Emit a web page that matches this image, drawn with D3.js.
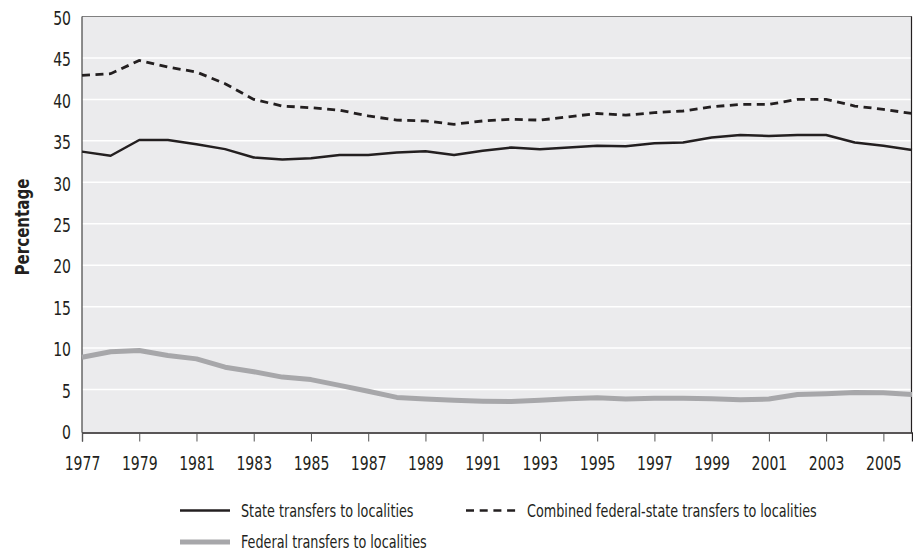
<!DOCTYPE html>
<html>
<head>
<meta charset="utf-8">
<script src="https://cdn.jsdelivr.net/npm/d3@7"></script>
<style>
  body { margin: 0; background: #fff; }
  svg text { font-family: "Liberation Sans Narrow", "DejaVu Sans Condensed", "Roboto Condensed", sans-serif; fill: #231f20; }
</style>
</head>
<body>
<div id="chart"></div>
<script>
const years = d3.range(1977, 2007);
const stateTransfers = [33.7, 33.2, 35.1, 35.1, 34.6, 34.0, 33.0, 32.75, 32.9, 33.3,
  33.3, 33.6, 33.75, 33.3, 33.8, 34.2, 34.0, 34.2, 34.4, 34.35,
  34.7, 34.8, 35.4, 35.7, 35.6, 35.7, 35.7, 34.8, 34.4, 33.9];
const combinedTransfers = [42.9, 43.1, 44.7, 43.9, 43.3, 41.9, 40.0, 39.2, 39.0, 38.7,
  38.0, 37.5, 37.4, 37.0, 37.4, 37.6, 37.5, 37.9, 38.3, 38.1,
  38.4, 38.6, 39.1, 39.4, 39.4, 40.0, 40.0, 39.2, 38.8, 38.3];
const federalTransfers = [8.9, 9.56, 9.7, 9.1, 8.7, 7.7, 7.15, 6.5, 6.2, 5.5,
  4.8, 4.05, 3.85, 3.7, 3.6, 3.56, 3.7, 3.9, 4.0, 3.85,
  3.96, 3.96, 3.9, 3.77, 3.85, 4.4, 4.5, 4.65, 4.6, 4.4];
const yTicks = [0, 5, 10, 15, 20, 25, 30, 35, 40, 45, 50];
const xTicks = d3.range(1977, 2007, 2);

const width = 913;
const height = 553;
const margin = { top: 16.5, right: 1, bottom: 122, left: 82 };
const squeeze = 0.8; // narrow the fallback font to look condensed

const svg = d3.select("#chart")
  .append("svg")
  .attr("width", width)
  .attr("height", height);

const x = d3.scaleLinear()
  .domain([1977, 2006])
  .range([margin.left, width - margin.right]);

const y = d3.scaleLinear()
  .domain([0, 50])
  .range([height - margin.bottom, margin.top]);

// plot background
svg.append("rect")
  .attr("x", x(1977))
  .attr("y", y(50))
  .attr("width", x(2006) - x(1977))
  .attr("height", y(0) - y(50) + 1)
  .attr("fill", "#ebebed");

// gridlines
svg.append("g")
  .selectAll("line")
  .data(yTicks.filter(d => d > 0 && d < 50))
  .join("line")
  .attr("x1", x(1977))
  .attr("x2", x(2006))
  .attr("y1", d => y(d))
  .attr("y2", d => y(d))
  .attr("stroke", "#fff")
  .attr("stroke-width", 1.5);

// frame
svg.append("line")
  .attr("x1", x(1977)).attr("x2", x(2006))
  .attr("y1", y(50)).attr("y2", y(50))
  .attr("stroke", "#808080").attr("stroke-width", 1);
svg.append("line")
  .attr("x1", x(1977)).attr("x2", x(1977))
  .attr("y1", y(50)).attr("y2", y(0) + 1.5)
  .attr("stroke", "#444").attr("stroke-width", 1.2);
svg.append("line")
  .attr("x1", x(2006) - 0.5).attr("x2", x(2006) - 0.5)
  .attr("y1", y(50)).attr("y2", y(0) + 1.5)
  .attr("stroke", "#231f20").attr("stroke-width", 1.2);

// x axis
const xAxis = svg.append("g")
  .attr("transform", `translate(0,${y(0) + 1.5})`)
  .call(d3.axisBottom(x).tickValues(xTicks).tickFormat(d3.format("d")).tickSize(9).tickPadding(15));
xAxis.select(".domain").attr("stroke", "#231f20").attr("stroke-width", 1.3);
xAxis.selectAll(".tick line").attr("stroke", "#555").attr("stroke-width", 1);
xAxis.selectAll("text")
  .attr("font-size", 19.5)
  .attr("transform", `scale(${squeeze},1)`)
  .style("fill", "#231f20");

// y axis labels
const yAxis = svg.append("g")
  .attr("transform", `translate(${x(1977)},1.5)`)
  .call(d3.axisLeft(y).tickValues(yTicks).tickSize(0).tickPadding(11));
yAxis.select(".domain").remove();
yAxis.selectAll("text")
  .attr("font-size", 19.5)
  .attr("x", -11 / squeeze)
  .attr("transform", `scale(${squeeze},1)`)
  .style("fill", "#231f20");

svg.append("text")
  .attr("transform", `translate(29,227) rotate(-90) scale(0.86,1)`)
  .attr("text-anchor", "middle")
  .attr("font-size", 19.5)
  .attr("font-weight", "bold")
  .text("Percentage");

const line = d3.line()
  .x((d, i) => x(years[i]))
  .y(d => y(d));

svg.append("path")
  .datum(federalTransfers)
  .attr("d", line)
  .attr("fill", "none")
  .attr("stroke", "#a7a7aa")
  .attr("stroke-width", 5)
  .attr("stroke-linejoin", "round");

svg.append("path")
  .datum(stateTransfers)
  .attr("d", line)
  .attr("fill", "none")
  .attr("stroke", "#231f20")
  .attr("stroke-width", 2.5)
  .attr("stroke-linejoin", "round");

svg.append("path")
  .datum(combinedTransfers)
  .attr("d", line)
  .attr("fill", "none")
  .attr("stroke", "#231f20")
  .attr("stroke-width", 2.8)
  .attr("stroke-dasharray", "8,5.5");

// legend
const legendItems = [
  { label: "State transfers to localities", x: 180, y: 510.5, stroke: "#231f20", w: 2.5, dash: null },
  { label: "Combined federal-state transfers to localities", x: 466, y: 510.5, stroke: "#231f20", w: 2.5, dash: "8,5.7" },
  { label: "Federal transfers to localities", x: 180, y: 542, stroke: "#a7a7aa", w: 5, dash: null }
];

const legend = svg.append("g");
legendItems.forEach(item => {
  legend.append("line")
    .attr("x1", item.x).attr("x2", item.x + 50)
    .attr("y1", item.y).attr("y2", item.y)
    .attr("stroke", item.stroke)
    .attr("stroke-width", item.w)
    .attr("stroke-dasharray", item.dash);
  legend.append("text")
    .attr("transform", `translate(${item.x + 61},${item.y}) scale(0.79,1)`)
    .attr("dy", "0.35em")
    .attr("font-size", 18)
    .text(item.label);
});
</script>
</body>
</html>
